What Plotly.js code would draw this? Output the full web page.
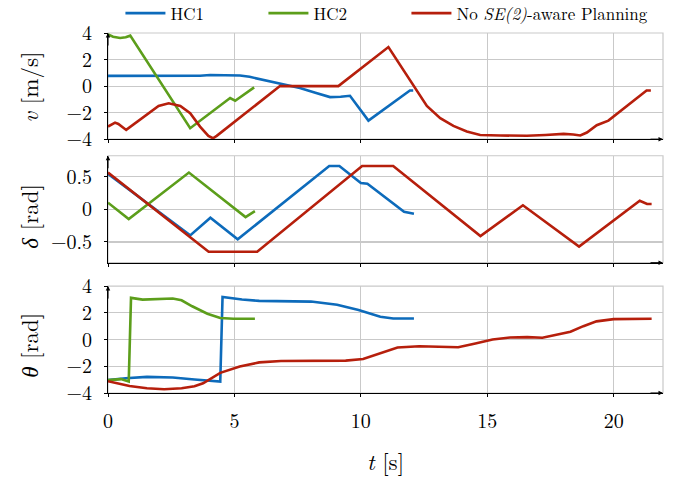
<!DOCTYPE html>
<html><head><meta charset="utf-8">
<script src="https://cdn.plot.ly/plotly-3.0.1.min.js"></script>
<style>html,body{margin:0;padding:0;background:#fff}</style>
</head><body><div id="chart" style="width:677px;height:479px"></div>
<script>
// ---- data ----
const seriesNames = ['HC1', 'HC2', 'No <i>SE(2)</i>-aware Planning'];
const yTitles = ['<i>v</i> [m/s]', '<i>δ</i> [rad]', '<i>θ</i> [rad]'];
const xTitle = '<i>t</i> [s]';

// velocity v [m/s]
const tV_HC1 = [0, 2.0, 3.64, 4.04, 4.6, 5.22, 5.6, 6.01, 6.8, 7.59, 8.2, 8.78, 9.2, 9.57, 10.3, 11.94, 12.07];
const v_HC1  = [0.77, 0.77, 0.78, 0.84, 0.8, 0.8, 0.7, 0.53, 0.23, -0.15, -0.5, -0.83, -0.8, -0.73, -2.6, -0.33, -0.33];
const tV_HC2 = [0, 0.2, 0.48, 0.7, 0.88, 3.25, 4.83, 5.03, 5.78];
const v_HC2  = [3.9, 3.72, 3.62, 3.68, 3.8, -3.17, -0.9, -1.1, -0.1];
const tV_NO  = [0, 0.28, 0.41, 0.72, 2.0, 2.4, 2.86, 3.25, 3.64, 3.97, 4.15, 4.3, 6.8, 9.11, 11.09, 11.56, 12.08, 12.34, 12.61, 13.14, 13.66, 14.19, 14.72, 15.51, 16.57, 17.3, 18.02, 18.4, 18.68, 18.94, 19.33, 19.79, 20.25, 21.3, 21.47];
const v_NO   = [-3.05, -2.75, -2.85, -3.3, -1.49, -1.29, -1.49, -2.04, -3.05, -3.75, -3.93, -3.75, 0, 0, 2.94, 1.59, 0.09, -0.66, -1.49, -2.42, -3.0, -3.42, -3.68, -3.72, -3.74, -3.68, -3.6, -3.65, -3.72, -3.5, -2.95, -2.6, -1.92, -0.33, -0.33];

// steering angle delta [rad]
const tD_HC1 = [0, 3.25, 4.05, 5.13, 8.75, 9.15, 10.0, 10.26, 11.71, 12.1];
const d_HC1  = [0.54, -0.40, -0.13, -0.46, 0.66, 0.66, 0.40, 0.39, -0.04, -0.07];
const tD_HC2 = [0, 0.82, 3.2, 5.44, 5.81];
const d_HC2  = [0.10, -0.15, 0.56, -0.12, -0.03];
const tD_NO  = [0, 3.98, 5.9, 10.05, 11.28, 14.73, 16.41, 18.63, 21.03, 21.32, 21.5];
const d_NO   = [0.56, -0.65, -0.65, 0.66, 0.66, -0.41, 0.06, -0.57, 0.13, 0.08, 0.08];

// heading theta [rad]
const tH_HC1 = [0, 0.7, 1.54, 2.56, 3.42, 4.1, 4.44, 4.53, 5.3, 5.98, 7.0, 8.03, 9.06, 9.91, 10.77, 11.28, 12.1];
const h_HC1  = [-3.04, -2.9, -2.79, -2.84, -2.99, -3.09, -3.14, 3.19, 2.99, 2.89, 2.86, 2.84, 2.61, 2.21, 1.71, 1.57, 1.57];
const tH_HC2 = [0, 0.51, 0.82, 0.91, 1.37, 2.56, 2.91, 3.33, 3.93, 4.44, 4.96, 5.81];
const h_HC2  = [-3.04, -2.96, -3.14, 3.12, 2.99, 3.07, 2.94, 2.49, 1.93, 1.61, 1.55, 1.55];
const tH_NO  = [0, 0.85, 1.54, 2.22, 2.91, 3.42, 3.76, 4.44, 5.21, 5.98, 6.84, 9.4, 10.09, 10.77, 11.45, 12.31, 13.16, 13.85, 14.53, 15.21, 15.9, 16.58, 17.18, 17.78, 18.29, 18.8, 19.32, 20.0, 20.68, 21.5];
const h_NO   = [-3.12, -3.47, -3.64, -3.72, -3.64, -3.49, -3.27, -2.49, -2.01, -1.71, -1.61, -1.58, -1.46, -1.0, -0.6, -0.5, -0.55, -0.58, -0.3, 0.0, 0.15, 0.18, 0.13, 0.35, 0.58, 1.0, 1.36, 1.53, 1.56, 1.55];

const xTicks = [0, 5, 10, 15, 20];
const vTicks = [-4, -2, 0, 2, 4];
const dTicks = [-0.5, 0, 0.5];
const hTicks = [-4, -2, 0, 2, 4];

// ---- styling ----
const colors = ['#0d6bbb', '#5c9e1b', '#b61f0c'];
const legendWidths = [88, 88, 200];
const FONT = 'Latin Modern Roman';
const gridC = '#c9c9c9';
const LW = 2.6;

function tr(x, y, i, ax, showLeg) {
  return {x: x, y: y, type: 'scatter', mode: 'lines', name: seriesNames[i],
    xaxis: ax[0], yaxis: ax[1], showlegend: showLeg, legendwidth: legendWidths[i],
    line: {color: colors[i], width: LW}, hoverinfo: 'skip'};
}

const data = [
  tr(tV_HC1, v_HC1, 0, ['x', 'y'], true),
  tr(tV_HC2, v_HC2, 1, ['x', 'y'], true),
  tr(tV_NO, v_NO, 2, ['x', 'y'], true),
  tr(tD_HC1, d_HC1, 0, ['x2', 'y2'], false),
  tr(tD_HC2, d_HC2, 1, ['x2', 'y2'], false),
  tr(tD_NO, d_NO, 2, ['x2', 'y2'], false),
  tr(tH_HC1, h_HC1, 0, ['x3', 'y3'], false),
  tr(tH_HC2, h_HC2, 1, ['x3', 'y3'], false),
  tr(tH_NO, h_NO, 2, ['x3', 'y3'], false)
];

const XR = [0, 21.95];
function xax(anchor, labels, match) {
  const a = {anchor: anchor, range: XR, tickvals: xTicks, showgrid: true, gridcolor: gridC, gridwidth: 1.2,
    zeroline: false, showline: true, linecolor: '#000', linewidth: 1, ticks: 'outside', ticklen: 3,
    tickcolor: '#000', showticklabels: labels, tickfont: {family: FONT, size: 20, color: '#000'},
    ticklabelstandoff: 7, fixedrange: true};
  if (match) a.matches = 'x';
  return a;
}
function yax(anchor, dom, range, ticks) {
  return {anchor: anchor, domain: dom, range: range, tickvals: ticks, showgrid: true, gridcolor: gridC,
    gridwidth: 1.2, zeroline: false, showline: true, linecolor: '#000', linewidth: 1, ticks: 'outside',
    ticklen: 3, tickcolor: '#000', tickfont: {family: FONT, size: 20, color: '#000'}, ticklabelstandoff: 8,
    fixedrange: true};
}

const shapes = [];
const annotations = [];
[['x', 'y'], ['x2', 'y2'], ['x3', 'y3']].forEach(function (p) {
  shapes.push({type: 'rect', xref: p[0] + ' domain', yref: p[1] + ' domain', x0: 0, x1: 1, y0: 0, y1: 1,
    line: {color: gridC, width: 1.2}, layer: 'below'});
  annotations.push({xref: p[0] + ' domain', yref: p[1] + ' domain', x: 1, y: 0, ax: -14, ay: 0,
    text: '', showarrow: true, arrowhead: 2, arrowsize: 0.9, arrowwidth: 1, arrowcolor: '#000'});
  annotations.push({xref: p[0] + ' domain', yref: p[1] + ' domain', x: 0, y: 1, ax: 0, ay: 14,
    text: '', showarrow: true, arrowhead: 2, arrowsize: 0.9, arrowwidth: 1, arrowcolor: '#000'});
});
// y-axis titles (aligned in one column, as in the reference)
const yTitlePos = [0.8506, 0.4889, 0.1327];
yTitles.forEach(function (t, i) {
  annotations.push({xref: 'paper', yref: 'paper', x: -0.143, y: yTitlePos[i], xanchor: 'center', yanchor: 'middle',
    text: t, textangle: -90, showarrow: false, font: {family: FONT, size: 23, color: '#000'}});
});

const xa3 = xax('y3', true, true);
xa3.title = {text: xTitle, font: {family: FONT, size: 23, color: '#000'}, standoff: 20};

const layout = {
  width: 677, height: 479,
  margin: {l: 108, r: 14, t: 33, b: 86, pad: 0, autoexpand: false},
  paper_bgcolor: '#fff', plot_bgcolor: '#fff',
  font: {family: FONT, color: '#000'},
  showlegend: true,
  legend: {orientation: 'h', x: 0.0224, xanchor: 'left', y: 1.054, yanchor: 'middle',
    xref: 'paper', yref: 'paper', entrywidth: 88, entrywidthmode: 'pixels', itemwidth: 40,
    font: {family: FONT, size: 17, color: '#000'}, bgcolor: 'rgba(0,0,0,0)', borderwidth: 0},
  xaxis: xax('y', false, false),
  xaxis2: xax('y2', false, true),
  xaxis3: xa3,
  yaxis: yax('x', [0.705, 1], [-4, 4], vTicks),
  yaxis2: yax('x2', [0.362, 0.659], [-0.817, 0.817], dTicks),
  yaxis3: yax('x3', [0, 0.297], [-4, 4], hTicks),
  shapes: shapes,
  annotations: annotations
};

Plotly.newPlot('chart', data, layout, {displayModeBar: false, staticPlot: true});
</script></body></html>
